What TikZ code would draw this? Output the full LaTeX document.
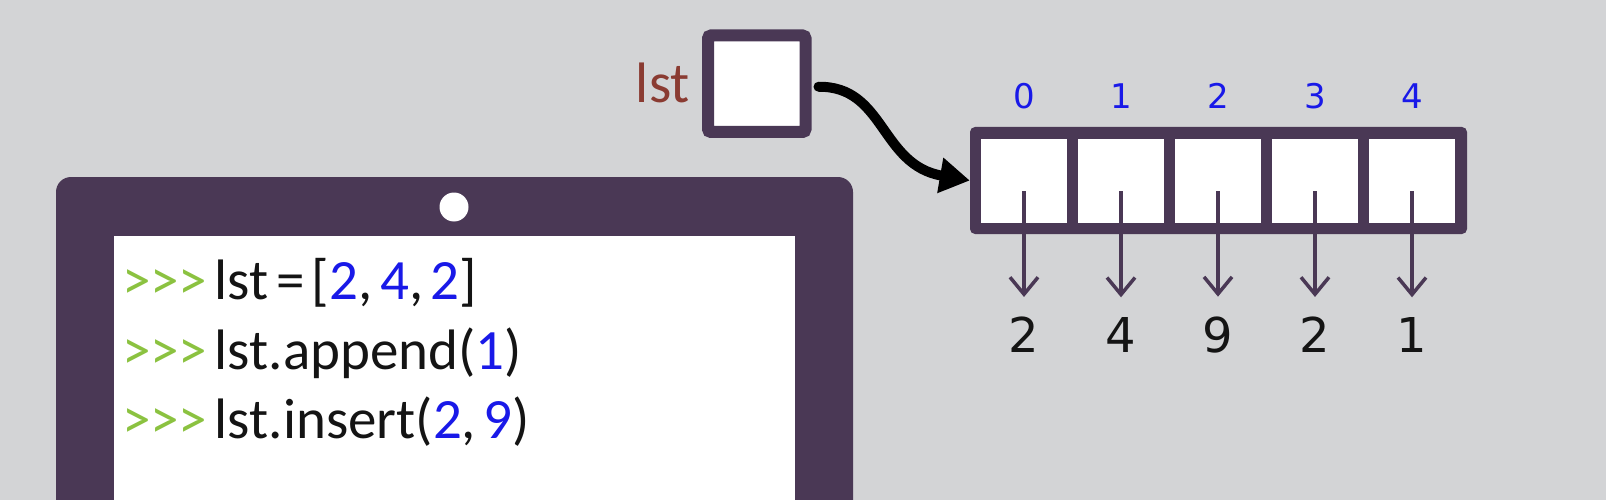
\documentclass[tikz,border=0pt]{standalone}
\usepackage{fontspec}
\setmainfont{Carlito}
\newfontfamily\dejavu{DejaVu Sans}
\usetikzlibrary{arrows.meta}
\definecolor{bg}{RGB}{211,212,214}
\definecolor{purp}{RGB}{74,56,85}
\definecolor{prompt}{RGB}{139,194,64}
\definecolor{num}{RGB}{25,25,232}
\definecolor{lstred}{RGB}{138,59,50}
\definecolor{ink}{RGB}{20,20,20}
\newcommand\mycodesetup{\fontsize{57}{60}\selectfont\spaceskip 7.5pt\relax}
\tikzset{
  codefont/.style={font=\mycodesetup, text=ink, inner sep=0pt},
  cell/.style={fill=white, minimum width=86pt, minimum height=84pt, inner sep=0pt},
  idx/.style={font=\dejavu\fontsize{34}{36}\selectfont, text=num, inner sep=0pt},
  val/.style={font=\dejavu\fontsize{48}{50}\selectfont, text=ink, inner sep=0pt},
  valarrow/.style={draw=purp, line width=3.5pt, -{Straight Barb[length=17pt,width=28pt]}, shorten >=20pt},
  curvearrow/.style={draw=black, line width=10pt, line cap=round, -{Triangle[length=30pt,width=34pt]}},
}
\begin{document}
\begin{tikzpicture}[x=1pt,y=-1pt]
\useasboundingbox (0,0) rectangle (1606,500);
\clip (0,0) rectangle (1606,500);
\fill[bg] (0,0) rectangle (1606,500);
% tablet
\fill[purp, rounded corners=15pt] (56,177) rectangle (853,560);
\fill[white] (114,236) rectangle (795,560);
\fill[white] (454,207) circle[radius=14.5pt];
% code
\node[codefont, anchor=base west] (l1) at (122,299) {\textcolor{prompt}{>{}>{}>} lst = [\textcolor{num}{2}, \textcolor{num}{4}, \textcolor{num}{2}]};
\node[codefont, anchor=base west] (l2) at (122,369) {\textcolor{prompt}{>{}>{}>} lst.append(\textcolor{num}{1})};
\node[codefont, anchor=base west] (l3) at (122,438) {\textcolor{prompt}{>{}>{}>} lst.insert(\textcolor{num}{2}, \textcolor{num}{9})};
% lst variable
\node[codefont, text=lstred, anchor=base east] (lstlabel) at (690,102.7) {lst};
\node[draw=purp, fill=white, line width=12pt, rounded corners=3pt, minimum width=97.5pt, minimum height=96.5pt, inner sep=0pt] (lstbox) at (756.75,83.75) {};
% array
\node[fill=purp, rounded corners=5pt, minimum width=497pt, minimum height=107pt, inner sep=0pt] (arr) at (1218.5,180.5) {};
\foreach \i/\v in {0/2,1/4,2/9,3/2,4/1} {
  \node[cell] (c\i) at (1024+97*\i,181) {};
  \node[idx] (i\i) at ([yshift=85pt]c\i.center) {\i};
  \node[val] (v\i) at ([yshift=-154pt]c\i.center) {\v};
  \draw[valarrow] ([yshift=-10pt]c\i.center) -- (v\i.north);
}
% pointer arrow
\draw[curvearrow] ([xshift=7pt,yshift=-3pt]lstbox.east) .. controls (885,86) and (880,165) .. (arr.west);
\end{tikzpicture}
\end{document}
